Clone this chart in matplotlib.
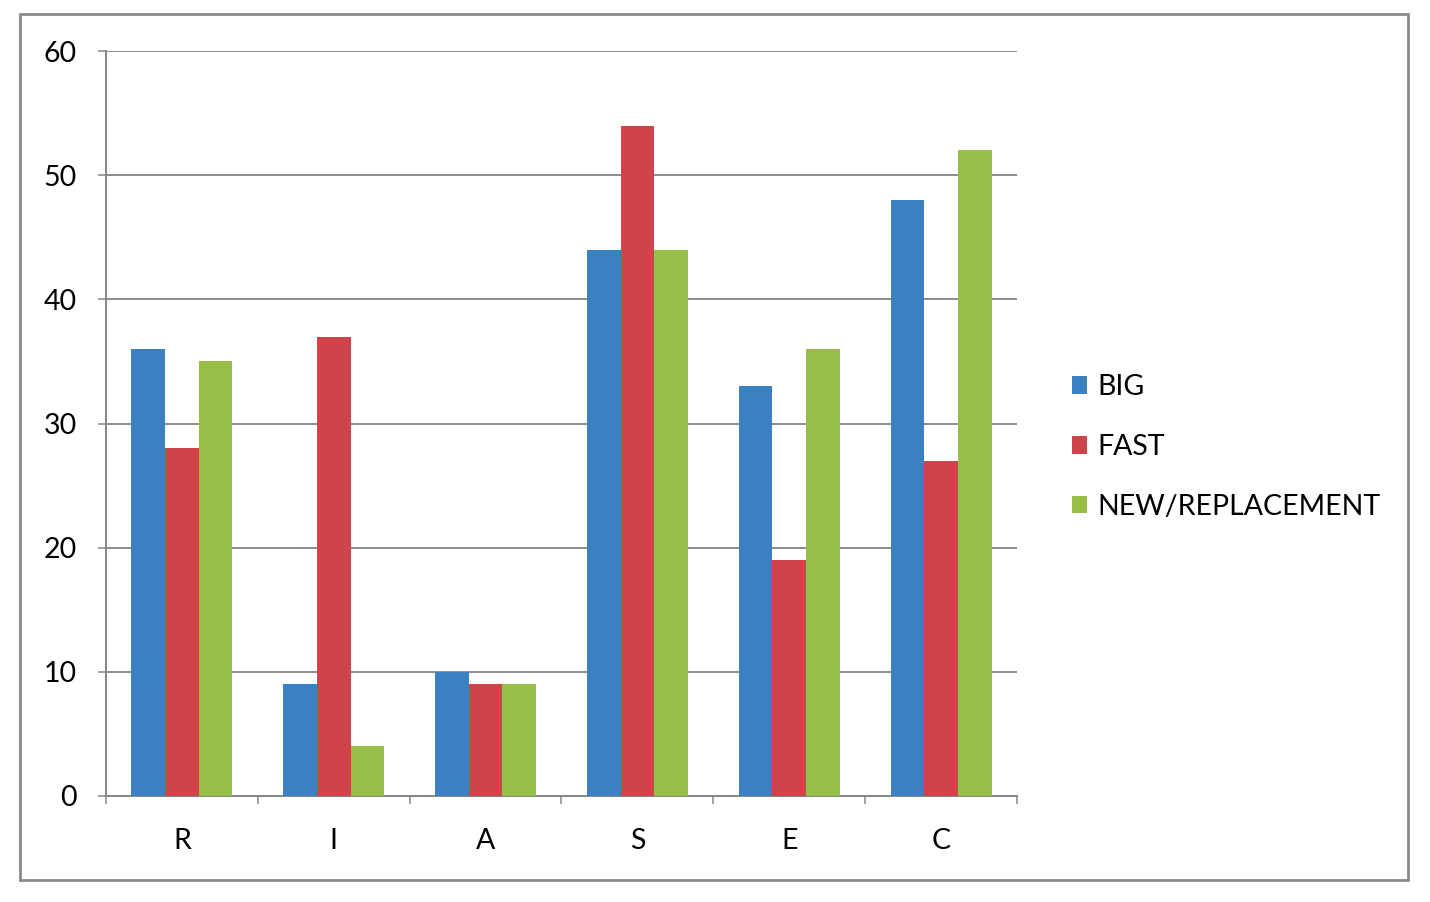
import matplotlib.pyplot as plt
import matplotlib.patches as mpatches
import numpy as np

categories = ['R', 'I', 'A', 'S', 'E', 'C']
big = [36, 9, 10, 44, 33, 48]
fast = [28, 37, 9, 54, 19, 27]
new_replacement = [35, 4, 9, 44, 36, 52]
series_names = ['BIG', 'FAST', 'NEW/REPLACEMENT']
colors = ['#3D80C2', '#CF4448', '#98BE47']

plt.rcParams['font.family'] = ['Lato', 'DejaVu Sans']

fig = plt.figure(figsize=(14.3, 9.02), dpi=100)
ax = fig.add_axes([106 / 1430, 1 - 796 / 902, 911 / 1430, 745 / 902])

x = np.arange(len(categories))
w = 0.222
for i, (vals, name) in enumerate(zip([big, fast, new_replacement], series_names)):
    ax.bar(x + (i - 1) * w, vals, width=w, color=colors[i], label=name, zorder=3)

ax.set_xlim(-0.5, len(categories) - 0.5)
ax.set_ylim(0, 60)
ax.set_yticks(range(0, 61, 10))
ax.set_xticks(x)
ax.set_xticklabels(categories)
ax.set_xticks(np.arange(-0.5, len(categories), 1), minor=True)
ax.tick_params(axis='x', which='major', length=0, pad=23, labelsize=20.5)
ax.tick_params(axis='x', which='minor', length=6, width=1.1, color='#868686', direction='out')
ax.tick_params(axis='y', length=6, width=1.1, color='#868686', pad=15, labelsize=20.5)
ax.grid(axis='y', color='#8c8c8c', linewidth=1.4, zorder=0)
for side in ['top', 'right']:
    ax.spines[side].set_visible(False)
for side in ['left', 'bottom']:
    ax.spines[side].set_color('#868686')
    ax.spines[side].set_linewidth(1.4)

fig.legend(loc='center left', bbox_to_anchor=(1046 / 1430, 1 - 447 / 902), frameon=False,
           fontsize=20.5, handlelength=0.55, handleheight=0.55, handletextpad=0.35,
           labelspacing=1.19)

fig.patches.append(mpatches.Rectangle((20 / 1430, 1 - 880 / 902), 1388 / 1430, 866 / 902,
                                      transform=fig.transFigure, fill=False,
                                      edgecolor='#8a8a8a', linewidth=2))

fig.savefig('out.png', dpi=100)
